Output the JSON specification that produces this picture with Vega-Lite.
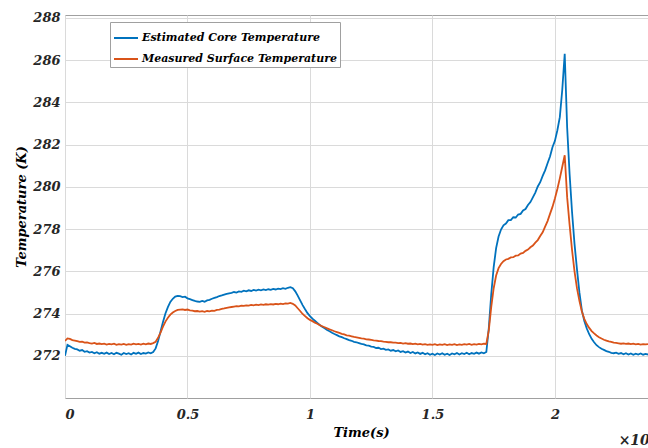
{
 "$schema": "https://vega.github.io/schema/vega-lite/v6.json",
 "width": 583,
 "height": 383,
 "autosize": {"type": "none"},
 "padding": {"left": 65, "top": 15, "right": 0, "bottom": 50},
 "background": "white",
 "title": {"text": "×10⁴", "orient": "bottom", "anchor": "end", "frame": "group", "font": "DejaVu Serif", "fontSize": 14, "fontStyle": "italic", "fontWeight": "bold", "color": "#262626", "dx": 8, "dy": -9},
 "data": {"values": [
{"t":0.00,"core":272.00,"surf":272.70},{"t":0.01,"core":272.52,"surf":272.82},{"t":0.02,"core":272.45,"surf":272.80},{"t":0.03,"core":272.38,"surf":272.74},{"t":0.04,"core":272.33,"surf":272.72},{"t":0.05,"core":272.30,"surf":272.69},{"t":0.06,"core":272.24,"surf":272.66},{"t":0.07,"core":272.27,"surf":272.67},{"t":0.08,"core":272.19,"surf":272.62},{"t":0.09,"core":272.22,"surf":272.63},
{"t":0.10,"core":272.15,"surf":272.60},{"t":0.11,"core":272.18,"surf":272.58},{"t":0.12,"core":272.12,"surf":272.61},{"t":0.13,"core":272.17,"surf":272.56},{"t":0.14,"core":272.10,"surf":272.58},{"t":0.15,"core":272.14,"surf":272.55},{"t":0.16,"core":272.09,"surf":272.57},{"t":0.17,"core":272.15,"surf":272.53},{"t":0.18,"core":272.08,"surf":272.56},{"t":0.19,"core":272.13,"surf":272.54},
{"t":0.20,"core":272.07,"surf":272.57},{"t":0.21,"core":272.14,"surf":272.52},{"t":0.22,"core":272.10,"surf":272.55},{"t":0.23,"core":272.05,"surf":272.53},{"t":0.24,"core":272.13,"surf":272.56},{"t":0.25,"core":272.08,"surf":272.52},{"t":0.26,"core":272.12,"surf":272.55},{"t":0.27,"core":272.06,"surf":272.53},{"t":0.28,"core":272.14,"surf":272.57},{"t":0.29,"core":272.09,"surf":272.54},
{"t":0.30,"core":272.15,"surf":272.56},{"t":0.31,"core":272.08,"surf":272.53},{"t":0.32,"core":272.13,"surf":272.57},{"t":0.33,"core":272.10,"surf":272.54},{"t":0.34,"core":272.16,"surf":272.58},{"t":0.35,"core":272.12,"surf":272.56},{"t":0.36,"core":272.18,"surf":272.60},{"t":0.37,"core":272.35,"surf":272.66},{"t":0.38,"core":272.70,"surf":272.85},{"t":0.39,"core":273.15,"surf":273.10},
{"t":0.40,"core":273.60,"surf":273.38},{"t":0.41,"core":274.00,"surf":273.62},{"t":0.42,"core":274.30,"surf":273.80},{"t":0.43,"core":274.55,"surf":273.95},{"t":0.44,"core":274.70,"surf":274.05},{"t":0.45,"core":274.80,"surf":274.12},{"t":0.46,"core":274.84,"surf":274.17},{"t":0.47,"core":274.82,"surf":274.19},{"t":0.48,"core":274.78,"surf":274.20},{"t":0.49,"core":274.80,"surf":274.17},
{"t":0.50,"core":274.72,"surf":274.19},{"t":0.51,"core":274.68,"surf":274.15},{"t":0.52,"core":274.64,"surf":274.14},{"t":0.53,"core":274.60,"surf":274.11},{"t":0.54,"core":274.57,"surf":274.12},{"t":0.55,"core":274.55,"surf":274.09},{"t":0.56,"core":274.60,"surf":274.11},{"t":0.57,"core":274.56,"surf":274.08},{"t":0.58,"core":274.62,"surf":274.12},{"t":0.59,"core":274.65,"surf":274.10},
{"t":0.60,"core":274.70,"surf":274.14},{"t":0.61,"core":274.74,"surf":274.13},{"t":0.62,"core":274.78,"surf":274.17},{"t":0.63,"core":274.83,"surf":274.19},{"t":0.64,"core":274.86,"surf":274.22},{"t":0.65,"core":274.90,"surf":274.24},{"t":0.66,"core":274.93,"surf":274.27},{"t":0.67,"core":274.96,"surf":274.29},{"t":0.68,"core":274.98,"surf":274.31},{"t":0.69,"core":275.02,"surf":274.33},
{"t":0.70,"core":274.99,"surf":274.35},{"t":0.71,"core":275.05,"surf":274.34},{"t":0.72,"core":275.03,"surf":274.37},{"t":0.73,"core":275.08,"surf":274.36},{"t":0.74,"core":275.05,"surf":274.39},{"t":0.75,"core":275.10,"surf":274.38},{"t":0.76,"core":275.07,"surf":274.41},{"t":0.77,"core":275.12,"surf":274.39},{"t":0.78,"core":275.09,"surf":274.42},{"t":0.79,"core":275.13,"surf":274.40},
{"t":0.80,"core":275.10,"surf":274.43},{"t":0.81,"core":275.14,"surf":274.41},{"t":0.82,"core":275.11,"surf":274.44},{"t":0.83,"core":275.15,"surf":274.42},{"t":0.84,"core":275.12,"surf":274.45},{"t":0.85,"core":275.17,"surf":274.43},{"t":0.86,"core":275.14,"surf":274.46},{"t":0.87,"core":275.18,"surf":274.44},{"t":0.88,"core":275.16,"surf":274.47},{"t":0.89,"core":275.20,"surf":274.45},
{"t":0.90,"core":275.17,"surf":274.48},{"t":0.91,"core":275.22,"surf":274.47},{"t":0.92,"core":275.25,"surf":274.50},{"t":0.93,"core":275.20,"surf":274.46},{"t":0.94,"core":275.05,"surf":274.38},{"t":0.95,"core":274.85,"surf":274.25},{"t":0.96,"core":274.62,"surf":274.12},{"t":0.97,"core":274.40,"surf":273.98},{"t":0.98,"core":274.20,"surf":273.88},{"t":0.99,"core":274.02,"surf":273.78},
{"t":1.00,"core":273.88,"surf":273.70},{"t":1.01,"core":273.76,"surf":273.64},{"t":1.02,"core":273.66,"surf":273.57},{"t":1.03,"core":273.56,"surf":273.52},{"t":1.04,"core":273.46,"surf":273.45},{"t":1.05,"core":273.38,"surf":273.40},{"t":1.06,"core":273.30,"surf":273.35},{"t":1.07,"core":273.22,"surf":273.30},{"t":1.08,"core":273.16,"surf":273.25},{"t":1.09,"core":273.09,"surf":273.21},
{"t":1.10,"core":273.03,"surf":273.16},{"t":1.11,"core":272.98,"surf":273.12},{"t":1.12,"core":272.92,"surf":273.08},{"t":1.13,"core":272.88,"surf":273.04},{"t":1.14,"core":272.83,"surf":273.01},{"t":1.15,"core":272.79,"surf":272.97},{"t":1.16,"core":272.74,"surf":272.95},{"t":1.17,"core":272.71,"surf":272.92},{"t":1.18,"core":272.66,"surf":272.89},{"t":1.19,"core":272.64,"surf":272.87},
{"t":1.20,"core":272.60,"surf":272.85},{"t":1.21,"core":272.56,"surf":272.82},{"t":1.22,"core":272.54,"surf":272.81},{"t":1.23,"core":272.49,"surf":272.78},{"t":1.24,"core":272.48,"surf":272.77},{"t":1.25,"core":272.43,"surf":272.75},{"t":1.26,"core":272.42,"surf":272.73},{"t":1.27,"core":272.37,"surf":272.72},{"t":1.28,"core":272.38,"surf":272.70},{"t":1.29,"core":272.32,"surf":272.69},
{"t":1.30,"core":272.34,"surf":272.67},{"t":1.31,"core":272.28,"surf":272.66},{"t":1.32,"core":272.30,"surf":272.64},{"t":1.33,"core":272.24,"surf":272.64},{"t":1.34,"core":272.27,"surf":272.62},{"t":1.35,"core":272.21,"surf":272.62},{"t":1.36,"core":272.25,"surf":272.60},{"t":1.37,"core":272.18,"surf":272.61},{"t":1.38,"core":272.22,"surf":272.58},{"t":1.39,"core":272.15,"surf":272.60},
{"t":1.40,"core":272.20,"surf":272.57},{"t":1.41,"core":272.13,"surf":272.58},{"t":1.42,"core":272.18,"surf":272.55},{"t":1.43,"core":272.11,"surf":272.57},{"t":1.44,"core":272.16,"surf":272.54},{"t":1.45,"core":272.09,"surf":272.56},{"t":1.46,"core":272.14,"surf":272.53},{"t":1.47,"core":272.07,"surf":272.55},{"t":1.48,"core":272.12,"surf":272.52},{"t":1.49,"core":272.05,"surf":272.54},
{"t":1.50,"core":272.10,"surf":272.52},{"t":1.51,"core":272.04,"surf":272.55},{"t":1.52,"core":272.11,"surf":272.51},{"t":1.53,"core":272.06,"surf":272.54},{"t":1.54,"core":272.12,"surf":272.52},{"t":1.55,"core":272.05,"surf":272.55},{"t":1.56,"core":272.10,"surf":272.51},{"t":1.57,"core":272.04,"surf":272.54},{"t":1.58,"core":272.11,"surf":272.52},{"t":1.59,"core":272.07,"surf":272.55},
{"t":1.60,"core":272.13,"surf":272.51},{"t":1.61,"core":272.06,"surf":272.54},{"t":1.62,"core":272.12,"surf":272.52},{"t":1.63,"core":272.08,"surf":272.55},{"t":1.64,"core":272.14,"surf":272.53},{"t":1.65,"core":272.07,"surf":272.56},{"t":1.66,"core":272.13,"surf":272.52},{"t":1.67,"core":272.09,"surf":272.55},{"t":1.68,"core":272.15,"surf":272.53},{"t":1.69,"core":272.10,"surf":272.56},
{"t":1.70,"core":272.16,"surf":272.54},{"t":1.71,"core":272.12,"surf":272.57},{"t":1.72,"core":272.18,"surf":272.56},{"t":1.73,"core":273.30,"surf":273.20},{"t":1.74,"core":274.90,"surf":274.30},{"t":1.75,"core":276.20,"surf":275.20},{"t":1.76,"core":277.10,"surf":275.80},{"t":1.77,"core":277.65,"surf":276.15},{"t":1.78,"core":277.98,"surf":276.35},{"t":1.79,"core":278.18,"surf":276.48},
{"t":1.80,"core":278.26,"surf":276.56},{"t":1.81,"core":278.42,"surf":276.59},{"t":1.82,"core":278.43,"surf":276.66},{"t":1.83,"core":278.56,"surf":276.67},{"t":1.84,"core":278.55,"surf":276.74},{"t":1.85,"core":278.69,"surf":276.75},{"t":1.86,"core":278.72,"surf":276.84},{"t":1.87,"core":278.88,"surf":276.87},{"t":1.88,"core":278.95,"surf":276.97},{"t":1.89,"core":279.14,"surf":277.03},
{"t":1.90,"core":279.28,"surf":277.14},{"t":1.91,"core":279.50,"surf":277.22},{"t":1.92,"core":279.73,"surf":277.36},{"t":1.93,"core":280.02,"surf":277.48},{"t":1.94,"core":280.22,"surf":277.67},{"t":1.95,"core":280.52,"surf":277.85},{"t":1.96,"core":280.78,"surf":278.12},{"t":1.97,"core":281.12,"surf":278.38},{"t":1.98,"core":281.44,"surf":278.72},{"t":1.99,"core":281.88,"surf":279.05},
{"t":2.00,"core":282.18,"surf":279.45},{"t":2.01,"core":282.68,"surf":279.90},{"t":2.02,"core":283.30,"surf":280.40},{"t":2.03,"core":284.60,"surf":280.95},{"t":2.04,"core":286.30,"surf":281.50},{"t":2.05,"core":282.80,"surf":279.50},{"t":2.06,"core":280.60,"surf":278.20},{"t":2.07,"core":278.80,"surf":277.00},{"t":2.08,"core":277.30,"surf":276.00},{"t":2.09,"core":276.10,"surf":275.20},
{"t":2.10,"core":275.00,"surf":274.60},{"t":2.11,"core":274.15,"surf":274.10},{"t":2.12,"core":273.65,"surf":273.75},{"t":2.13,"core":273.30,"surf":273.50},{"t":2.14,"core":273.02,"surf":273.32},{"t":2.15,"core":272.80,"surf":273.17},{"t":2.16,"core":272.64,"surf":273.06},{"t":2.17,"core":272.50,"surf":272.96},{"t":2.18,"core":272.41,"surf":272.88},{"t":2.19,"core":272.33,"surf":272.82},
{"t":2.20,"core":272.28,"surf":272.76},{"t":2.21,"core":272.22,"surf":272.72},{"t":2.22,"core":272.19,"surf":272.68},{"t":2.23,"core":272.14,"surf":272.66},{"t":2.24,"core":272.12,"surf":272.62},{"t":2.25,"core":272.15,"surf":272.61},{"t":2.26,"core":272.09,"surf":272.59},{"t":2.27,"core":272.13,"surf":272.57},{"t":2.28,"core":272.07,"surf":272.59},{"t":2.29,"core":272.12,"surf":272.56},
{"t":2.30,"core":272.06,"surf":272.58},{"t":2.31,"core":272.11,"surf":272.55},{"t":2.32,"core":272.05,"surf":272.57},{"t":2.33,"core":272.10,"surf":272.54},{"t":2.34,"core":272.06,"surf":272.56},{"t":2.35,"core":272.11,"surf":272.53},{"t":2.36,"core":272.05,"surf":272.55},{"t":2.37,"core":272.09,"surf":272.54},{"t":2.38,"core":272.06,"surf":272.55}
 ]},
 "transform": [{"fold": ["core", "surf"], "as": ["series", "value"]}],
 "mark": {"type": "line", "strokeWidth": 1.8, "clip": true},
 "encoding": {
  "x": {"field": "t", "type": "quantitative",
        "scale": {"domain": [0, 2.38], "nice": false, "zero": false},
        "axis": {"values": [0, 0.5, 1, 1.5, 2], "format": "~g", "title": "Time(s)", "titleX": 296, "titleY": 34, "titleBaseline": "middle", "titleAnchor": null, "labelPadding": 10}},
  "y": {"field": "value", "type": "quantitative",
        "scale": {"domain": [270, 288.14], "nice": false, "zero": false},
        "axis": {"values": [272, 274, 276, 278, 280, 282, 284, 286, 288], "title": "Temperature (K)", "labelPadding": 5, "titlePadding": 4}},
  "color": {"field": "series", "type": "nominal",
        "scale": {"domain": ["core", "surf"], "range": ["#0072BD", "#D95319"]},
        "legend": {"title": null, "orient": "none", "legendX": 45, "legendY": 7,
                   "labelExpr": "datum.value == 'core' ? 'Estimated Core Temperature' : 'Measured Surface Temperature'",
                   "symbolType": "stroke", "symbolSize": 576, "symbolStrokeWidth": 2,
                   "strokeColor": "#a0a0a0", "fillColor": "white", "padding": 3, "rowPadding": 3, "labelOffset": 3,
                   "labelFont": "DejaVu Serif", "labelFontSize": 11, "labelFontStyle": "italic", "labelFontWeight": "bold", "labelColor": "#000000", "labelLimit": 400}}
 },
 "config": {
  "view": {"stroke": "#a0a0a0", "strokeWidth": 1},
  "font": "DejaVu Serif",
  "axis": {"grid": true, "gridColor": "#dadada", "gridWidth": 1, "domain": false, "ticks": false,
           "labelFont": "DejaVu Serif", "labelFontSize": 13, "labelFontStyle": "italic", "labelFontWeight": "bold", "labelColor": "#262626",
           "titleFont": "DejaVu Serif", "titleFontSize": 13, "titleFontStyle": "italic", "titleFontWeight": "bold", "titleColor": "#000000"}
 }
}
